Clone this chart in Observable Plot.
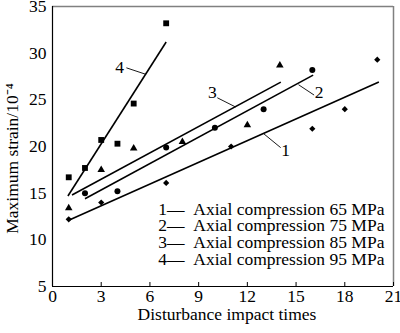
<!DOCTYPE html>
<html>
<head>
<meta charset="utf-8">
<script src="https://cdn.jsdelivr.net/npm/d3@7"></script>
<script src="https://cdn.jsdelivr.net/npm/@observablehq/plot@0.6"></script>
<style>
  html, body { margin: 0; padding: 0; background: #fff; }
  #chart svg, #chart svg text { font-family: "Liberation Serif", "Times New Roman", serif !important; }
</style>
</head>
<body>
<div id="chart"></div>
<script>
// Series 1: Axial compression 65 MPa (diamonds)
const s1X = [1, 3, 7, 11, 16, 18, 20];
const s1Y = [12.2, 14.0, 16.1, 20.0, 21.9, 24.0, 29.3];
// Series 2: Axial compression 75 MPa (circles)
const s2X = [2, 4, 7, 10, 13, 16];
const s2Y = [15.0, 15.2, 19.9, 22.0, 24.0, 28.2];
// Series 3: Axial compression 85 MPa (triangles)
const s3X = [1, 3, 5, 8, 12, 14];
const s3Y = [13.4, 17.5, 19.8, 20.5, 22.3, 28.7];
// Series 4: Axial compression 95 MPa (squares)
const s4X = [1, 2, 3, 4, 5, 7];
const s4Y = [16.7, 17.7, 20.7, 20.3, 24.6, 33.2];

// Fitted lines (start/end) for series 1..4
const fitX1 = [1, 2, 1.2, 0.95];
const fitY1 = [12.1, 14.4, 14.8, 14.7];
const fitX2 = [20.1, 16.05, 14.06, 7];
const fitY2 = [26.9, 27.65, 26.9, 31.2];

// Curve labels and their leader lines
const curveNames = ["1", "2", "3", "4"];
const labelX = [14.36, 16.42, 9.84, 4.14];
const labelY = [19.53, 25.76, 25.76, 28.5];
const leadX1 = [13.02, 15.15, 11.28, 5.72];
const leadY1 = [21.35, 26.62, 24.23, 27.75];
const leadX2 = [14.05, 16.11, 10.15, 4.55];
const leadY2 = [19.88, 25.51, 25.22, 28.43];

const legendLabels = [
  "Axial compression 65 MPa",
  "Axial compression 75 MPa",
  "Axial compression 85 MPa",
  "Axial compression 95 MPa"
];

const xTicks = [0, 3, 6, 9, 12, 15, 18, 21];
const yTicks = [5, 10, 15, 20, 25, 30, 35];
const xTitle = "Disturbance impact times";
const yTitle = "Maximum strain/10\u207B\u2074";

const pts = (xs, ys) => xs.map((x, i) => ({x, y: ys[i]}));
const fits = curveNames.map((n, i) => ({x1: fitX1[i], y1: fitY1[i], x2: fitX2[i], y2: fitY2[i]}));
const leads = curveNames.map((n, i) => ({n, lx: labelX[i], ly: labelY[i], x1: leadX1[i], y1: leadY1[i], x2: leadX2[i], y2: leadY2[i]}));
const legend = legendLabels.map((t, i) => ({t: curveNames[i] + "\u2014\u2002" + t, i}));

const font = "Liberation Serif, Times New Roman, serif";

const chart = Plot.plot({
  width: 400,
  height: 333,
  marginLeft: 52,
  marginRight: 7,
  marginTop: 6,
  marginBottom: 47,
  style: {fontFamily: font, fontSize: "17.5px", color: "#000", background: "#fff"},
  x: {domain: [0, 21]},
  y: {domain: [5, 35]},
  marks: [
    Plot.ruleY([35], {stroke: "#808080", strokeWidth: 1.5}),
    Plot.ruleX([21], {stroke: "#808080", strokeWidth: 1.5}),
    Plot.ruleY([5], {stroke: "#000", strokeWidth: 1.2}),
    Plot.ruleX([0], {stroke: "#000", strokeWidth: 1.2}),
    Plot.axisX(xTicks, {tickSize: -4, tickPadding: 7, tickFormat: d => d, label: null, fontSize: "17.5px"}),
    Plot.axisY(yTicks, {tickSize: 0, tickPadding: 6, tickFormat: d => d, label: null, fontSize: "17.5px"}),
    Plot.link(fits, {x1: "x1", y1: "y1", x2: "x2", y2: "y2", stroke: "#000", strokeWidth: 1.6}),
    Plot.link(leads, {x1: "x1", y1: "y1", x2: "x2", y2: "y2", stroke: "#000", strokeWidth: 0.9}),
    Plot.text(leads, {x: "lx", y: "ly", text: "n", fill: "#000", fontSize: 17.5}),
    Plot.dot(pts(s1X, s1Y), {x: "x", y: "y", symbol: "diamond2", r: 2.8, fill: "#000", stroke: "none"}),
    Plot.dot(pts(s2X, s2Y), {x: "x", y: "y", symbol: "circle", r: 3, fill: "#000", stroke: "none"}),
    Plot.dot(pts(s3X, s3Y), {x: "x", y: "y", symbol: "triangle", r: 2.8, fill: "#000", stroke: "none"}),
    Plot.dot(pts(s4X, s4Y), {x: "x", y: "y", symbol: "square", r: 3.3, fill: "#000", stroke: "none"}),
    Plot.text(legend, {x: 6.52, y: d => 13.3 - d.i * 1.795, text: "t", textAnchor: "start", fill: "#000", fontSize: 17.5}),
    Plot.text([xTitle], {frameAnchor: "bottom", dx: 4, dy: 28, text: d => d, textAnchor: "middle", lineAnchor: "middle", fill: "#000", fontSize: 17.5}),
    Plot.text([yTitle], {frameAnchor: "left", dx: -40, dy: 12, rotate: -90, text: d => d, textAnchor: "middle", lineAnchor: "middle", fill: "#000", fontSize: 17.5})
  ]
});
document.getElementById("chart").appendChild(chart);
</script>
</body>
</html>
